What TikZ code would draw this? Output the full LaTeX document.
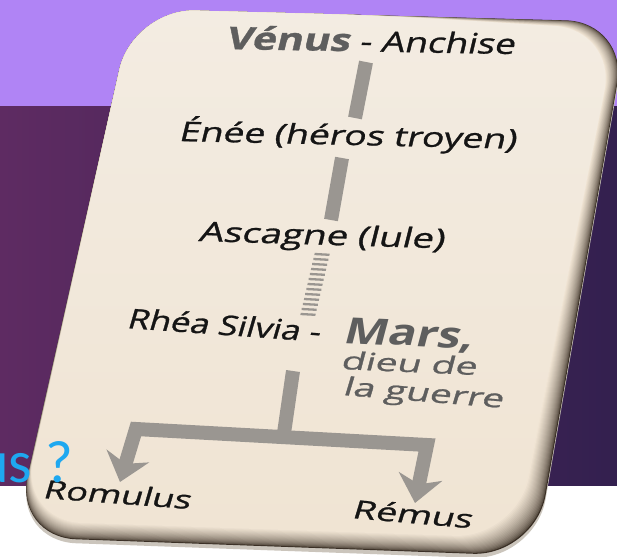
\documentclass[tikz,border=0pt]{standalone}
\usepackage{fontspec}
\usepackage{graphicx}
\setmainfont{Open Sans}
\newfontfamily\cardfont{Open Sans}[FakeBold=0.9]
\newfontfamily\qfont{Carlito}
\usetikzlibrary{arrows.meta,calc}
\definecolor{lilac}{HTML}{B084F5}
\definecolor{plumL}{HTML}{5E2B62}
\definecolor{plumR}{HTML}{33204F}
\definecolor{paper}{HTML}{F0E4D3}
\definecolor{paperT}{HTML}{F3ECE2}
\definecolor{bevel}{HTML}{3A2F25}
\definecolor{edgec}{HTML}{CBC5BC}
\definecolor{barc}{HTML}{9A9691}
\definecolor{ink}{HTML}{151515}
\definecolor{godc}{HTML}{5E5E5E}
\definecolor{qblue}{HTML}{1EA8F0}
\newcommand\cardpath[1]{(380.5,15.5) -- ({628-0.6*#1},{22+0.4*#1}) -- ({535-#1},{556-#1}) -- ({14+0.3*#1},{537-0.9*#1}) -- (133,9) -- cycle}
\tikzset{
  lbl/.style={inner sep=0pt, anchor=base west, text=ink, xslant=0.22, font=\cardfont},
  linkbar/.style={draw=barc, line width=14pt},
  hatchline/.style={draw=barc, line width=2.3pt},
  cardlayer/.style={rounded corners=62pt}
}
\begin{document}
\begin{tikzpicture}[x=1pt,y=-1pt]
\useasboundingbox (0,0) rectangle (617,556);
% background
\fill[white] (0,0) rectangle (617,556);
\fill[lilac] (0,0) rectangle (617,107);
\shade[left color=plumL, right color=plumR] (0,107) rectangle (617,485);
% card
\fill[edgec, cardlayer, yshift=-4pt] \cardpath{0};
\foreach \k in {0,...,18} {
  \pgfmathsetmacro\pct{100*(\k/18)^0.55}
  \fill[paper!\pct!bevel, cardlayer] \cardpath{\k};
}
\shade[top color=paperT, bottom color=paper, cardlayer] \cardpath{19};
% texts
\node[lbl, rotate=-1] (venus) at (225,49) {\resizebox{290pt}{\height}{{\fontsize{31pt}{34pt}\selectfont\bfseries\color{godc}Vénus}\fontsize{28pt}{32pt}\selectfont\ - Anchise}};
\node[lbl, rotate=-1.3] (enee) at (178,141) {\resizebox{339pt}{\height}{\fontsize{27pt}{31pt}\selectfont Énée (héros troyen)}};
\node[lbl, rotate=-1.7] (ascagne) at (198,241) {\resizebox{247pt}{\height}{\fontsize{27pt}{31pt}\selectfont Ascagne (lule)}};
\node[lbl, rotate=-4] (rhea) at (126,328) {\resizebox{196pt}{\height}{\fontsize{27pt}{31pt}\selectfont Rhéa Silvia -}};
\node[lbl, rotate=-2.5, text=godc, font=\normalfont] (mars) at (342,343) {\resizebox{131pt}{\height}{\fontsize{36pt}{40pt}\selectfont\bfseries Mars,}};
\node[lbl, rotate=-2.5, text=godc] (dieu) at (340,369) {\resizebox{137pt}{\height}{\fontsize{24pt}{28pt}\selectfont dieu de}};
\node[lbl, rotate=-4.5, text=godc] (guerre) at (342,395) {\resizebox{163pt}{\height}{\fontsize{25pt}{29pt}\selectfont la guerre}};
\node[lbl, rotate=-4.2] (romulus) at (42,498) {\resizebox{150pt}{\height}{\fontsize{25pt}{29pt}\selectfont Romulus}};
\node[lbl, rotate=-4.8] (remus) at (351,518) {\resizebox{122pt}{\height}{\fontsize{25pt}{29pt}\selectfont Rémus}};
% connectors
\coordinate (b1t) at (366,62);  \coordinate (b1b) at (355,118);
\coordinate (b2t) at (342,158); \coordinate (b2b) at (331,220);
\coordinate (h1) at (322,254);  \coordinate (h2) at (308,314);
\coordinate (s1) at (293,371);  \coordinate (jn) at (283,440);
\coordinate (lc) at (136,429);  \coordinate (rc) at (427,445);
\coordinate (lt) at (120,482);  \coordinate (rt) at (415,503);
\draw[linkbar] (b1t) -- (b1b);
\draw[linkbar] (b2t) -- (b2b);
\foreach \t [evaluate=\t as \f using \t/12] in {0,...,12} {
  \draw[hatchline] ($(h1)!\f!(h2)+(-7.5,0)$) -- ++(15,0.8);
}
\draw[linkbar] (s1) -- (jn);
\draw[linkbar, line join=miter, {Stealth[length=27pt,width=44pt,inset=8pt]}-{Stealth[length=27pt,width=44pt,inset=8pt]}] (lt) -- (lc) -- (rc) -- (rt);
% slide text on top
\node[anchor=base west, inner sep=0pt, text=qblue, font=\qfont\fontsize{60pt}{60pt}\selectfont] (q) at (-23,482) {us ?};
\end{tikzpicture}
\end{document}
